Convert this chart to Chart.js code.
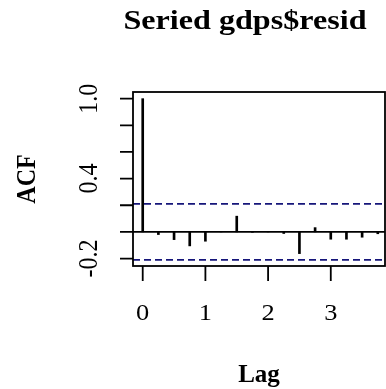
<!DOCTYPE html>
<html>
<head>
<meta charset="utf-8">
<script src="https://cdn.jsdelivr.net/npm/chart.js@4"></script>
<style>
  html, body { margin: 0; padding: 0; background: #fff; }
  canvas { display: block; }
</style>
</head>
<body>
<canvas id="chart" width="386" height="389"></canvas>
<script>
// lags (quarterly series, so steps of 0.25) and the acf at each lag
const lags = [0, 0.25, 0.5, 0.75, 1, 1.25, 1.5, 1.75, 2, 2.25, 2.5, 2.75, 3, 3.25, 3.5, 3.75];
const acfValues = [1.0, -0.02, -0.058, -0.105, -0.07, 0.003, 0.118, -0.003, 0.004, -0.012, -0.163, 0.032, -0.055, -0.055, -0.04, -0.014];
const ciBound = 0.21;

const yTicks = [-0.2, 0, 0.2, 0.4, 0.6, 0.8, 1.0];
const yTickLabels = ['-0.2', '', '', '0.4', '', '', '1.0'];
const xTicks = [0, 1, 2, 3];
const xTickLabels = ['0', '1', '2', '3'];

const titleText = 'Seried gdps$resid';
const xTitle = 'Lag';
const yTitle = 'ACF';

const xMin = -0.155, xMax = 3.865;
const yMin = -0.256, yMax = 1.05;

const spikes = lags.map((l, i) => ({ x: l, y: acfValues[i] }));
const upperCI = [{ x: xMin, y: ciBound }, { x: xMax, y: ciBound }];
const lowerCI = [{ x: xMin, y: -ciBound }, { x: xMax, y: -ciBound }];
const zeroLine = [{ x: xMin, y: 0 }, { x: xMax, y: 0 }];

const SERIF = '"Liberation Serif", "Times New Roman", Times, serif';

// draw text, optionally stretched sideways and rotated
function putText(ctx, txt, x, y, font, sx, rot) {
  ctx.save();
  ctx.translate(x, y);
  ctx.scale(sx, 1);
  if (rot) ctx.rotate(rot);
  ctx.font = font;
  ctx.fillText(txt, 0, 0);
  ctx.restore();
}

const rAxes = {
  id: 'rAxes',
  afterDraw(chart) {
    const ctx = chart.ctx;
    const a = chart.chartArea;
    const xs = chart.scales.x, ys = chart.scales.y;
    ctx.save();
    ctx.strokeStyle = '#000';
    ctx.fillStyle = '#000';
    ctx.lineWidth = 1.8;
    ctx.strokeRect(a.left, a.top, a.right - a.left, a.bottom - a.top);

    ctx.beginPath();
    yTicks.forEach(v => {
      const py = ys.getPixelForValue(v);
      ctx.moveTo(a.left - 13, py);
      ctx.lineTo(a.left, py);
    });
    xTicks.forEach(v => {
      const px = xs.getPixelForValue(v);
      ctx.moveTo(px, a.bottom);
      ctx.lineTo(px, a.bottom + 15);
    });
    ctx.stroke();

    ctx.textAlign = 'center';
    ctx.textBaseline = 'alphabetic';
    yTicks.forEach((v, i) => {
      if (!yTickLabels[i]) return;
      putText(ctx, yTickLabels[i], 97, ys.getPixelForValue(v), '24px ' + SERIF, 1.15, -Math.PI / 2);
    });
    xTicks.forEach((v, i) => {
      putText(ctx, xTickLabels[i], xs.getPixelForValue(v), 320, '24px ' + SERIF, 1.1, 0);
    });

    putText(ctx, titleText, 245, 29, 'bold 27px ' + SERIF, 1.19, 0);
    putText(ctx, xTitle, (a.left + a.right) / 2, 382, 'bold 25px ' + SERIF, 1.0, 0);
    putText(ctx, yTitle, 35, (a.top + a.bottom) / 2, 'bold 24px ' + SERIF, 1.15, -Math.PI / 2);
    ctx.restore();
  }
};

new Chart(document.getElementById('chart').getContext('2d'), {
  type: 'bar',
  data: {
    datasets: [
      {
        type: 'line',
        data: upperCI,
        borderColor: '#16167a',
        borderWidth: 1.8,
        borderDash: [7, 4],
        pointRadius: 0
      },
      {
        type: 'line',
        data: lowerCI,
        borderColor: '#16167a',
        borderWidth: 1.8,
        borderDash: [7, 4],
        pointRadius: 0
      },
      {
        type: 'line',
        data: zeroLine,
        borderColor: '#000',
        borderWidth: 1.8,
        pointRadius: 0
      },
      {
        type: 'bar',
        data: spikes,
        backgroundColor: '#000',
        borderWidth: 0,
        barThickness: 2
      }
    ]
  },
  options: {
    responsive: false,
    animation: false,
    devicePixelRatio: 1,
    layout: {
      padding: { left: 133, top: 92, right: 1, bottom: 123 }
    },
    plugins: {
      legend: { display: false },
      tooltip: { enabled: false },
      title: { display: false }
    },
    scales: {
      x: { type: 'linear', min: xMin, max: xMax, offset: false, display: false },
      y: { type: 'linear', min: yMin, max: yMax, display: false }
    }
  },
  plugins: [rAxes]
});
</script>
</body>
</html>
